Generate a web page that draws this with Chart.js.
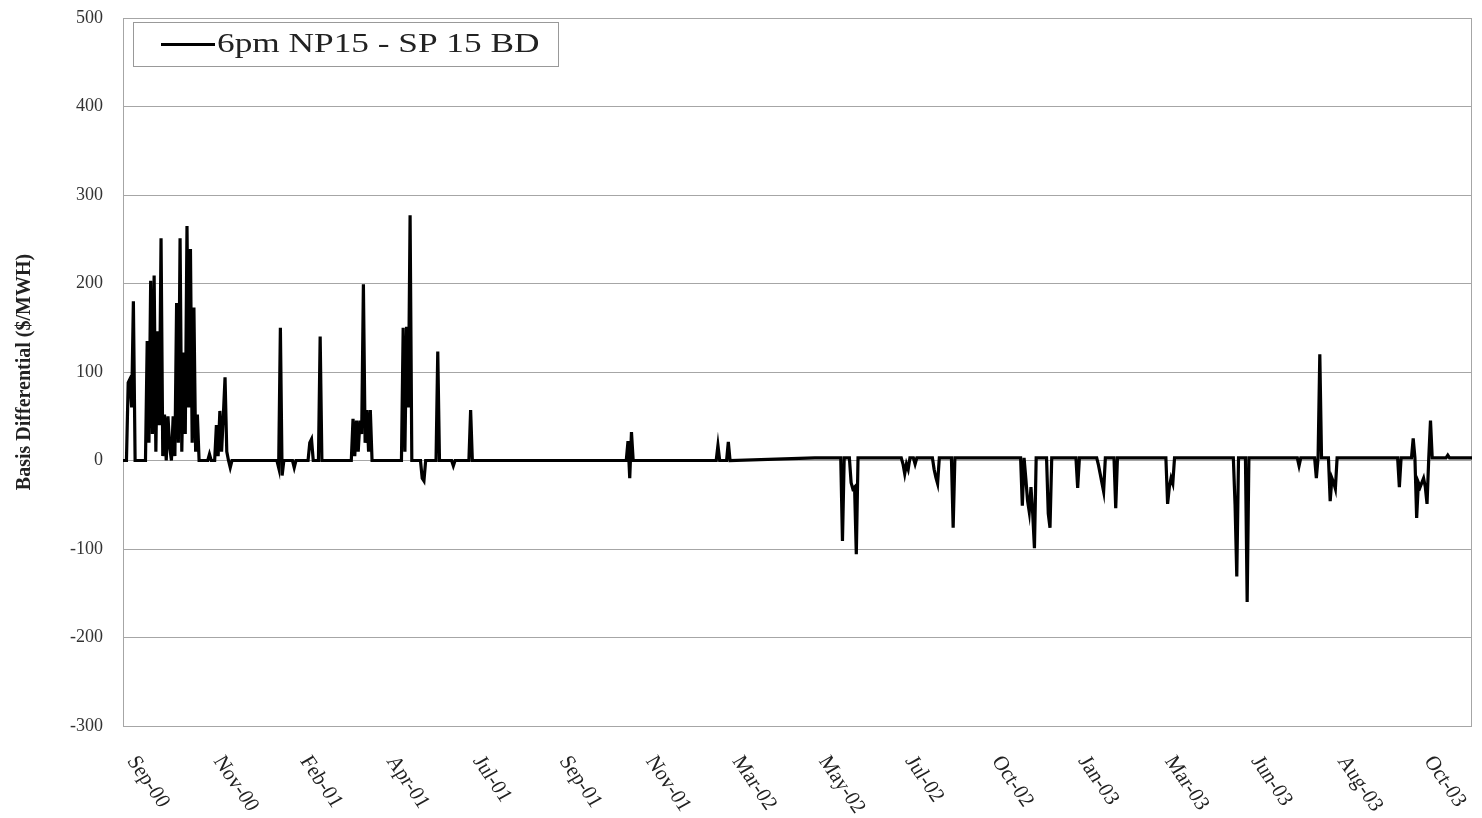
<!DOCTYPE html>
<html>
<head>
<meta charset="utf-8">
<title>6pm NP15 - SP 15 BD</title>
<script src="https://cdn.jsdelivr.net/npm/chart.js@4.4.1/dist/chart.umd.min.js"></script>
<style>
  html, body { margin: 0; padding: 0; background: #fff; }
  canvas { display: block; }
</style>
</head>
<body>
<canvas id="basisChart" width="1482" height="818"></canvas>
<script>
const SERIES_LABEL = "6pm NP15 - SP 15 BD";
const Y_TITLE = "Basis Differential ($/MWH)";
const SERIF = '"Liberation Serif", "Times New Roman", serif';

// trading-day index along the x axis (0 = left edge of the plot)
const dayIndex = [
  0, 2, 3, 4, 5, 6, 7,
  13, 14, 15, 16, 17, 18, 19, 20, 21, 22, 23, 24, 25, 26, 27, 28, 29, 30,
  31, 32, 33, 34, 35, 36, 37, 38, 39, 40, 41, 42, 43, 44,
  49, 50, 51,
  53, 54, 55, 56, 57, 58, 59, 60, 61, 62, 63,
  89, 90, 91, 92, 93,
  98, 99, 100,
  107, 108, 109, 110,
  113, 114, 115,
  132, 133, 134, 135, 136, 137, 138, 139, 140, 141, 142, 143, 144,
  161, 162, 163, 164, 165, 166, 167,
  172, 173, 174, 175,
  181, 182, 183,
  190, 191, 192,
  200, 201, 202,
  291, 292, 293, 294, 295,
  343, 344, 345,
  349, 350, 351,
  400,
  415, 416, 417,
  420, 421, 422, 423, 424, 425,
  450, 451, 452, 453, 454, 455,
  457, 458, 459,
  468, 469, 470, 471, 472,
  479, 480, 481,
  519, 520, 521, 522, 523, 524, 525, 526, 527, 528,
  534, 535, 536, 537,
  551, 552, 553,
  563, 564, 565, 566, 567, 568,
  573, 574, 575,
  603, 604, 605, 606, 607, 608,
  642, 643, 644, 645,
  649, 650, 651,
  679, 680, 681,
  689, 690, 691, 692, 693,
  697, 698, 699, 700, 701, 702,
  737, 738, 739,
  745, 746, 747, 748, 749, 750, 751, 752, 753, 754, 755, 756, 757,
  765, 766, 767,
  780
];

// basis differential, $/MWH
const basisValues = [
  0, 0, 88, 92, 60, 180, 0,
  0, 135, 20, 203, 30, 209, 10, 146, 40, 251, 5, 52, 0, 50, 15, 0, 50, 5,
  178, 20, 251, 10, 122, 30, 265, 60, 239, 20, 173, 10, 52, 0,
  0, 7, 0,
  0, 40, 5, 56, 10, 50, 94, 10, 0, -8, 0,
  0, -8, 150, -17, 0,
  0, -8, 0,
  0, 20, 24, 0,
  0, 140, 0,
  0, 47, 5, 45, 10, 45, 30, 199, 20, 57, 10, 57, 0,
  0, 150, 10, 151, 60, 277, 0,
  0, -20, -23, 0,
  0, 123, 0,
  0, -6, 0,
  0, 57, 0,
  0, 22, -20, 32, 0,
  0, 17, 0,
  0, 21, 0,
  3,
  3, -91, 3,
  3, -25, -32, -30, -106, 3,
  3, -4, -15, -4, -10, 3,
  3, -4, 3,
  3, -10, -19, -26, 3,
  3, -76, 3,
  3, -51, 3, -20, -45, -58, -30, -60, -99, 3,
  3, -60, -76, 3,
  3, -31, 3,
  3, -5, -15, -25, -35, 3,
  3, -54, 3,
  3, -49, -30, -20, -26, 3,
  3, -50, -131, 3,
  3, -160, 3,
  3, -6, 3,
  3, -20, 3, 120, 3,
  3, -46, -20, -25, -32, 3,
  3, -30, 3,
  3, 25, 3, -65, -25, -30, -25, -20, -30, -49, 3, 45, 3,
  3, 6, 3,
  3
];

const tickDays = [6, 56, 106, 156, 206, 256, 306, 356, 406, 456, 506, 556, 606, 656, 706, 756];
const tickLabels = [
  "Sep-00", "Nov-00", "Feb-01", "Apr-01", "Jul-01", "Sep-01", "Nov-01", "Mar-02",
  "May-02", "Jul-02", "Oct-02", "Jan-03", "Mar-03", "Jun-03", "Aug-03", "Oct-03"
];

const Y_MIN = -300;
const Y_MAX = 500;
const Y_STEP = 100;

const points = dayIndex.map((d, i) => ({ x: d, y: basisValues[i] }));

const excelLook = {
  id: "excelLook",
  beforeDatasetsDraw(chart) {
    const { ctx, chartArea } = chart;
    ctx.save();
    ctx.strokeStyle = "#a6a6a6";
    ctx.lineWidth = 1;
    ctx.strokeRect(chartArea.left + 0.5, chartArea.top + 0.5,
      chartArea.right - chartArea.left - 1, chartArea.bottom - chartArea.top);
    ctx.restore();
  },
  afterDraw(chart) {
    const { ctx } = chart;
    const xScale = chart.scales.x;

    // rotated month labels (the original is a bit stretched sideways)
    ctx.save();
    ctx.fillStyle = "#222";
    ctx.font = "20px " + SERIF;
    ctx.textAlign = "left";
    ctx.textBaseline = "middle";
    tickDays.forEach((d, i) => {
      const px = xScale.getPixelForValue(d);
      ctx.save();
      ctx.translate(px - 2, 758);
      ctx.scale(1.1, 1);
      ctx.rotate(58 * Math.PI / 180);
      ctx.fillText(tickLabels[i], 0, 0);
      ctx.restore();
    });
    ctx.restore();

    // legend box inside the plot
    ctx.save();
    ctx.fillStyle = "#fff";
    ctx.fillRect(134, 23, 424, 43);
    ctx.strokeStyle = "#999";
    ctx.lineWidth = 1;
    ctx.strokeRect(133.5, 22.5, 425, 44);
    ctx.strokeStyle = "#000";
    ctx.lineWidth = 3;
    ctx.beginPath();
    ctx.moveTo(161, 44.5);
    ctx.lineTo(215, 44.5);
    ctx.stroke();
    ctx.fillStyle = "#222";
    ctx.font = "28px " + SERIF;
    ctx.textBaseline = "middle";
    ctx.translate(217, 45);
    ctx.scale(1.26, 1);
    ctx.fillText(SERIES_LABEL, 0, 0);
    ctx.restore();
  }
};

new Chart(document.getElementById("basisChart"), {
  type: "line",
  data: {
    datasets: [{
      label: SERIES_LABEL,
      data: points,
      borderColor: "#000",
      borderWidth: 3.2,
      pointRadius: 0,
      tension: 0,
      fill: false
    }]
  },
  options: {
    responsive: false,
    animation: false,
    layout: {
      padding: { top: 18, right: 10, bottom: 0, left: 0 }
    },
    plugins: {
      legend: { display: false },
      tooltip: { enabled: false }
    },
    scales: {
      x: {
        type: "linear",
        min: 0,
        max: 780,
        ticks: { display: false },
        grid: { display: false, drawTicks: false },
        border: { display: false },
        afterFit: scale => { scale.height = 92; }
      },
      y: {
        min: Y_MIN,
        max: Y_MAX,
        ticks: {
          stepSize: Y_STEP,
          padding: 20,
          color: "#333",
          font: { family: SERIF, size: 18 }
        },
        grid: { color: "#a6a6a6", lineWidth: 1, drawTicks: false },
        border: { display: true, color: "#a6a6a6" },
        title: {
          display: true,
          text: Y_TITLE,
          color: "#222",
          font: { family: SERIF, size: 20, weight: "bold" },
          padding: { top: 13, bottom: 0 }
        },
        afterFit: scale => {
          scale.width = 123;
          scale.paddingTop = 0;
          scale.paddingBottom = 0;
        }
      }
    }
  },
  plugins: [excelLook]
});
</script>
</body>
</html>
